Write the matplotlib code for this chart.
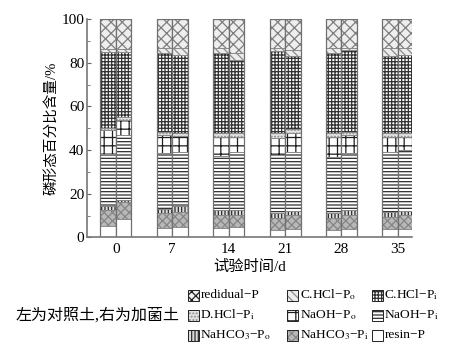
import matplotlib
matplotlib.use("Agg")
import matplotlib.pyplot as plt
from matplotlib.patches import Rectangle
import numpy as np

plt.rcParams['font.family'] = ['Liberation Serif', 'Noto Sans CJK SC']
plt.rcParams['mathtext.fontset'] = 'stix'
plt.rcParams['hatch.linewidth'] = 0.9

days = ['0', '7', '14', '21', '28', '35']

# Phosphorus fractions (%), control soil (left bar) and inoculated soil (right bar)
resin_ctrl = [5.4, 4.1, 4.1, 3.4, 3.4, 4.0]
resin_inoc = [8.2, 4.6, 4.9, 4.0, 4.0, 4.0]
nahco3_pi_ctrl = [7.1, 6.9, 6.1, 5.3, 5.3, 5.5]
nahco3_pi_inoc = [7.8, 7.2, 5.3, 6.2, 6.2, 6.2]
nahco3_po_ctrl = [2.0, 2.0, 2.3, 2.3, 2.3, 2.0]
nahco3_po_inoc = [1.0, 2.7, 2.3, 2.0, 2.3, 2.0]
naoh_pi_ctrl = [23.5, 25.5, 25.0, 26.8, 26.0, 27.8]
naoh_pi_inoc = [30.0, 24.8, 26.8, 27.1, 26.0, 27.8]
naoh_po_ctrl = [11.0, 8.5, 8.7, 7.6, 9.2, 6.9]
naoh_po_inoc = [7.0, 7.2, 6.9, 8.4, 8.4, 6.2]
dhcl_pi_ctrl = [1.0, 1.5, 1.5, 2.3, 1.8, 1.5]
dhcl_pi_inoc = [1.3, 1.5, 1.5, 1.8, 1.6, 1.5]
chcl_pi_ctrl = [35.0, 35.9, 36.7, 37.9, 36.4, 35.2]
chcl_pi_inoc = [29.7, 35.6, 33.6, 33.4, 37.4, 35.9]
chcl_po_ctrl = [1.5, 2.3, 2.3, 1.1, 2.3, 3.8]
chcl_po_inoc = [1.5, 3.1, 3.1, 3.0, 0.8, 3.1]
residual_ctrl = [13.5, 13.3, 13.3, 13.3, 13.3, 13.3]
residual_inoc = [13.5, 13.3, 15.6, 14.1, 13.3, 13.3]

labels = ['resin−P', 'NaHCO$_3$−P$_\\mathrm{i}$', 'NaHCO$_3$−P$_\\mathrm{o}$',
          'NaOH−P$_\\mathrm{i}$', 'NaOH−P$_\\mathrm{o}$', 'D.HCl−P$_\\mathrm{i}$',
          'C.HCl−P$_\\mathrm{i}$', 'C.HCl−P$_\\mathrm{o}$', 'redidual−P']
ctrl = [resin_ctrl, nahco3_pi_ctrl, nahco3_po_ctrl, naoh_pi_ctrl, naoh_po_ctrl,
        dhcl_pi_ctrl, chcl_pi_ctrl, chcl_po_ctrl, residual_ctrl]
inoc = [resin_inoc, nahco3_pi_inoc, nahco3_po_inoc, naoh_pi_inoc, naoh_po_inoc,
        dhcl_pi_inoc, chcl_pi_inoc, chcl_po_inoc, residual_inoc]

# (face colour, hatch colour, hatch)
styles = [
    ('white', 'white', ''),
    ('#b8b8b8', '#858585', 'xxxx'),
    ('#dcdcdc', '#2a2a2a', '|||||'),
    ('white', '#2e2e2e', '-----'),
    ('white', '#1e1e1e', '++'),
    ('#e2e2e2', '#8a8a8a', '.....'),
    ('white', '#303030', '+++++'),
    ('#ececec', '#8c8c8c', '\\\\\\\\'),
    ('#eeeeee', '#7e7e7e', 'xxx'),
]

W, H = 459, 349
fig = plt.figure(figsize=(W / 100, H / 100), dpi=100)
ax = fig.add_axes([0.1895, 0.320, 0.708, 0.625])

x = np.arange(len(days))
w = 0.275
for offset, data in ((-w / 2, ctrl), (w / 2, inoc)):
    bottom = np.zeros(len(days))
    for vals, (fc, hc, hatch) in zip(data, styles):
        vals = np.array(vals)
        ax.bar(x + offset, vals, w, bottom=bottom, color=fc, edgecolor=hc,
               hatch=hatch, linewidth=0)
        ax.bar(x + offset, vals, w, bottom=bottom, fill=False,
               edgecolor='#8a8a8a', linewidth=0.6)
        bottom += vals
    ax.bar(x + offset, bottom, w, fill=False, edgecolor='#707070', linewidth=0.9)

ax.set_xlim(-0.513, 5.25)
ax.set_ylim(0, 100)
ax.set_xticks(x)
ax.set_xticklabels(days)
ax.set_yticks(np.arange(0, 101, 20))
ax.set_yticks(np.arange(10, 100, 20), minor=True)
ax.tick_params(axis='y', direction='in', length=3, width=0.8, color='#666666',
               labelsize=11, pad=2)
ax.tick_params(axis='y', which='minor', direction='in', length=2, color='#666666')
ax.tick_params(axis='x', length=0, labelsize=11, pad=4)
for s in ('top', 'right'):
    ax.spines[s].set_visible(False)
for s in ('left', 'bottom'):
    ax.spines[s].set_color('#777777')
    ax.spines[s].set_linestyle((0, (1, 1)))
    ax.spines[s].set_linewidth(1.2)

ax.set_ylabel('磷形态百分比含量/%', fontsize=10.5, labelpad=2)
ax.set_xlabel('试验时间/d', fontsize=11, labelpad=3)

# Legend key laid out as a 3x3 grid below the axes
legend_styles = list(styles)
legend_styles[8] = ('#f2f2f2', '#222222', 'xxxx')
order = [8, 7, 6, 5, 4, 3, 2, 1, 0]
col_x = [188, 287, 372]
row_y = [295, 315, 335]
sw, sh = 11, 11
for k, idx in enumerate(order):
    r, c = divmod(k, 3)
    fc, hc, h = legend_styles[idx]
    px, py = col_x[c], row_y[r]
    fig.add_artist(Rectangle((px / W, 1 - (py + sh / 2) / H), sw / W, sh / H,
                             transform=fig.transFigure, facecolor=fc,
                             edgecolor=hc, hatch=h, linewidth=0))
    fig.add_artist(Rectangle((px / W, 1 - (py + sh / 2) / H), sw / W, sh / H,
                             transform=fig.transFigure, fill=False,
                             edgecolor='#222222', linewidth=0.7))
    fig.text((px + sw + 1.5) / W, 1 - py / H, labels[idx], fontsize=9.6,
             va='center', ha='left')

fig.text(0.033, 0.097, '左为对照土,右为加菌土', fontsize=11.5, va='center')

fig.savefig('out.png', dpi=100)
